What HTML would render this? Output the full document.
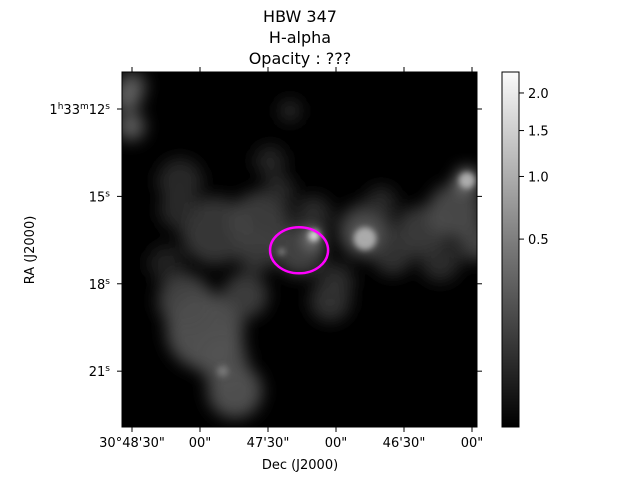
<!DOCTYPE html>
<html><head><meta charset="utf-8"><style>
body{margin:0;background:#fff;width:640px;height:480px;overflow:hidden;font-family:"DejaVu Sans","Liberation Sans",sans-serif;}
svg text{font-family:"DejaVu Sans","Liberation Sans",sans-serif;fill:#000;}
</style></head><body>
<svg id="chart" width="640" height="480" viewBox="0 0 640 480" xmlns="http://www.w3.org/2000/svg">
<defs>
<clipPath id="plotclip"><rect x="122" y="72" width="355" height="355"/></clipPath>
<filter id="blur" x="-50%" y="-50%" width="200%" height="200%"><feGaussianBlur stdDeviation="8"/></filter>
<filter id="blur2" x="-100%" y="-100%" width="300%" height="300%"><feGaussianBlur stdDeviation="3"/></filter>
<linearGradient id="cbgrad" x1="0" y1="1" x2="0" y2="0">
<stop offset="0" stop-color="#000"/><stop offset="0.5" stop-color="#777"/><stop offset="1" stop-color="#fafafa"/>
</linearGradient>
</defs>
<g>
<text x="300" y="22" font-size="16" text-anchor="middle">HBW 347</text>
<text x="300" y="43" font-size="16" text-anchor="middle">H-alpha</text>
<text x="300" y="64" font-size="16" text-anchor="middle">Opacity : ???</text>
</g>
<rect x="122" y="72" width="355" height="355" fill="#000"/>
<g id="blobs" clip-path="url(#plotclip)" filter="url(#blur)"></g>
<g id="spots" clip-path="url(#plotclip)" filter="url(#blur2)"></g>
<g id="marker"></g>
<rect x="122" y="72" width="355" height="355" fill="none" stroke="#000" stroke-width="1"/>
<g id="axes"></g>
<text x="300" y="469" font-size="13" text-anchor="middle">Dec (J2000)</text>
<text transform="translate(34,250) rotate(-90)" font-size="13" text-anchor="middle">RA (J2000)</text>
<rect x="502" y="72" width="17" height="355" fill="url(#cbgrad)" stroke="#000" stroke-width="1"/>
<g id="cbticks"></g>
</svg>
<script>
// Dec in arcsec offset from 30°46'00", RA in seconds past 1h33m
const blobDec = [117.8,104.6,126.6,113.4,93.5,75.9,47.2,47.2,22.9,7.5,2.2,152,80.3,89.1,62.6,69.7,128.8,14.1,150.5,110,100,60,35,130,135,85,70,150,-2,40,95];
const blobRa  = [19.62,21.68,18.59,16.18,15.84,16.87,16.36,16.19,16.19,15.50,14.40,11.60,12.06,13.78,18.59,16.46,14.47,17.22,12.60,20.6,18.4,17.9,17.0,15.5,17.3,14.8,15.6,11.2,16.6,15.2,16.9];
const blobR   = [17,12,12,15,13,11,7,12,11,12,4.4,6,5,7,9,2.2,10,9,6,11,10,8,9,8,8,7,8,6,8,7,9];
const blobI   = [0.36,0.36,0.3,0.25,0.28,0.3,0.75,0.3,0.26,0.33,0.7,0.45,0.18,0.16,0.22,0.95,0.18,0.2,0.45,0.33,0.28,0.2,0.22,0.18,0.15,0.18,0.2,0.4,0.3,0.18,0.25];
// compact bright knots
const spotDec = [69.7,47.2,2.2,84,110];
const spotRa  = [16.35,16.45,14.45,16.9,21.0];
const spotR   = [2.5,5,3.5,1.5,2.5];
const spotI   = [0.95,0.75,0.75,0.6,0.5];
const xTickDec = [150,120,90,60,30,0];
const xTickLabels = ["30°48'30\"","00\"","47'30\"","00\"","46'30\"","00\""];
const yTickRa = [12,15,18,21];
const cbTickVals = [2.0,1.5,1.0,0.5];
const cbTickLabels = ["2.0","1.5","1.0","0.5"];
const ellipseDec = 76.3, ellipseRa = 16.85, ellipseRxSec = 12.8, ellipseRySec = 0.79;

const NS='http://www.w3.org/2000/svg';
const X = d => 472 - d*68/30;
const Y = r => 109 + (r-12)*29.13;
const SX = a => a*68/30;
const CB = v => 427 - 355*Math.pow(v/2.316,0.415);
function mk(tag, attrs, parent){const e=document.createElementNS(NS,tag);for(const k in attrs)e.setAttribute(k,attrs[k]);parent.appendChild(e);return e;}

const blobs=document.getElementById('blobs');
blobDec.forEach((d,i)=>{
  const g=Math.round(255*blobI[i]);
  const c=mk('circle',{cx:X(d),cy:Y(blobRa[i]),r:SX(blobR[i]),fill:`rgb(${g},${g},${g})`,'fill-opacity':0.85},blobs);
  
  
});
const spots=document.getElementById('spots');
spotDec.forEach((d,i)=>{
  const g=Math.round(255*spotI[i]);
  const c=mk('circle',{cx:X(d),cy:Y(spotRa[i]),r:SX(spotR[i]),fill:`rgb(${g},${g},${g})`,'fill-opacity':0.8},spots);
  
  
});
const m=document.getElementById('marker');
const el=mk('ellipse',{cx:X(ellipseDec),cy:Y(ellipseRa),rx:SX(ellipseRxSec),ry:ellipseRySec*29.13,fill:'none',stroke:'#ff00ff','stroke-width':2.5},m);



const ax=document.getElementById('axes');
xTickDec.forEach((d,i)=>{
  const x=X(d);
  mk('line',{x1:x,y1:427,x2:x,y2:432,stroke:'#000'},ax);
  mk('line',{x1:x,y1:72,x2:x,y2:67,stroke:'#000'},ax);
  const t=mk('text',{x:x,y:447,'font-size':13,'text-anchor':'middle'},ax);
  t.textContent=xTickLabels[i];
  
  
});
yTickRa.forEach((r,i)=>{
  const y=Y(r);
  mk('line',{x1:122,y1:y,x2:117,y2:y,stroke:'#000'},ax);
  mk('line',{x1:477,y1:y,x2:482,y2:y,stroke:'#000'},ax);
  const t=mk('text',{x:110,y:y+5,'font-size':13,'text-anchor':'end'},ax);
  
  
  if(i===0){
    t.innerHTML='1<tspan font-size="9" dy="-5">h</tspan><tspan dy="5">33</tspan><tspan font-size="9" dy="-5">m</tspan><tspan dy="5">12</tspan><tspan font-size="9" dy="-5">s</tspan>';
  } else {
    t.innerHTML=r+'<tspan font-size="9" dy="-5">s</tspan>';
  }
});
const cb=document.getElementById('cbticks');
cbTickVals.forEach((v,i)=>{
  const y=CB(v);
  mk('line',{x1:519,y1:y,x2:524,y2:y,stroke:'#000'},cb);
  const t=mk('text',{x:528,y:y+5,'font-size':13},cb);
  t.textContent=cbTickLabels[i];
  
  
});
</script>
</body></html>
